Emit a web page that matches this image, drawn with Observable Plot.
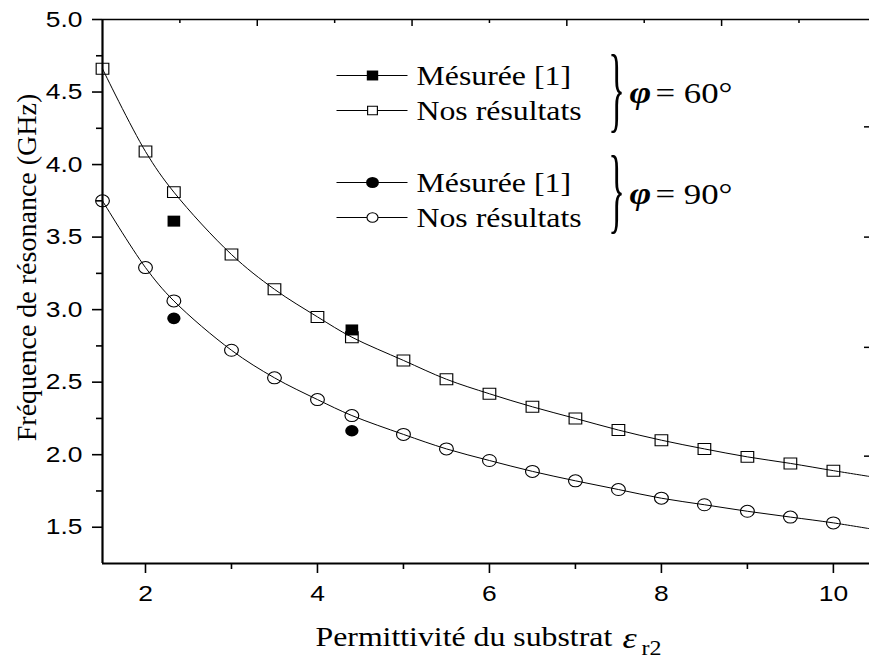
<!DOCTYPE html>
<html><head><meta charset="utf-8">
<script src="https://cdn.jsdelivr.net/npm/d3@7"></script>
<script src="https://cdn.jsdelivr.net/npm/@observablehq/plot@0.6"></script>
<style>body{margin:0;background:#fff} #chart svg{display:block}</style>
</head><body><div id="chart"></div>
<script>
// ---- data ----
const eps = [1.5, 2, 2.33, 3, 3.5, 4, 4.4, 5, 5.5, 6, 6.5, 7, 7.5, 8, 8.5, 9, 9.5, 10];
const nos60 = [4.66, 4.09, 3.81, 3.38, 3.14, 2.95, 2.81, 2.65, 2.52, 2.42, 2.33, 2.25, 2.17, 2.10, 2.04, 1.985, 1.94, 1.89];
const nos90 = [3.75, 3.29, 3.06, 2.72, 2.53, 2.38, 2.27, 2.14, 2.04, 1.96, 1.885, 1.82, 1.76, 1.70, 1.655, 1.61, 1.57, 1.53];
const measEps = [2.33, 4.4];
const mes60 = [3.61, 2.86];
const mes90 = [2.94, 2.165];
const tailEps = 10.42;   // curve continues to the plot edge
const tail60 = 1.85;
const tail90 = 1.49;
const xMajor = [2, 4, 6, 8, 10];
const xMinor = [3, 5, 7, 9];
const yMajor = [1.5, 2.0, 2.5, 3.0, 3.5, 4.0, 4.5, 5.0];
const yMinor = [1.75, 2.25, 2.75, 3.25, 3.75, 4.25, 4.75];
const topMajor = [3.3, 5.1, 6.9, 8.7];
const topMinor = [2.4, 4.2, 6.0, 7.8, 9.6];
const rightTicks = [4.26, 3.5, 2.74, 1.99];
const legendLabels = ["Mésurée [1]", "Nos résultats", "Mésurée [1]", "Nos résultats"];
const phiLabels = ["= 60°", "= 90°"];
const yLabel = "Fréquence de résonance (GHz)";
const xLabel = "Permittivité du substrat";

// ---- layout ----
const W = 869, H = 659, mL = 102, mR = 0, mT = 19, mB = 96;
const xDomain = [1.5, 10.42], yDomain = [1.25, 5.0];
const xs = Plot.scale({x: {domain: xDomain, range: [mL, W - mR]}});
const ys = Plot.scale({y: {domain: yDomain, range: [H - mB, mT]}});
const px = (v) => xs.invert(v), py = (v) => ys.invert(v);
const SERIF = "'Liberation Serif', 'Times New Roman', serif";
const SANS = "'Liberation Sans', Arial, sans-serif";

const ring = {draw(ctx, size) { const r = Math.sqrt(size / Math.PI); ctx.moveTo(r, 0); ctx.arc(0, 0, r, 0, 2 * Math.PI); ctx.closePath(); }};

const res = eps.map((e, i) => ({e, a: nos60[i], b: nos90[i]}));
const curveA = [...res.map(d => ({e: d.e, v: d.a})), {e: tailEps, v: tail60}];
const curveB = [...res.map(d => ({e: d.e, v: d.b})), {e: tailEps, v: tail90}];
const meas = measEps.map((e, i) => ({e, a: mes60[i], b: mes90[i]}));

const rowY = [75, 110, 182, 217];
const legend = legendLabels.map((label, i) => ({label, y: py(rowY[i]), sym: i < 2 ? "square" : ring}));
const phiRows = phiLabels.map((t, i) => ({t, y: py([93, 194][i]), by: py([95, 196][i] - 6)}));

const marks = [
  Plot.ruleY([5.0], {strokeWidth: 1.5}),
  Plot.tickX(topMajor, {x: d => d, insetBottom: (H - mT - mB) - 7, strokeWidth: 1.5}),
  Plot.tickX(topMinor, {x: d => d, insetBottom: (H - mT - mB) - 4, strokeWidth: 1.5}),
  Plot.tickY(rightTicks, {y: d => d, insetLeft: (W - mL - mR) - 5, strokeWidth: 1.5}),
  Plot.axisX(xMajor, {anchor: "bottom", tickSize: 10, tickPadding: 12, fontSize: 22, fontFamily: SANS, strokeWidth: 1.6, label: null, tickFormat: d => String(d), fill: "black"}),
  Plot.axisX(xMinor, {anchor: "bottom", tickSize: 6, strokeWidth: 1.6, label: null, tickFormat: () => ""}),
  Plot.axisY(yMajor, {anchor: "left", tickSize: 10, tickPadding: 10, fontSize: 22, fontFamily: SANS, strokeWidth: 1.6, label: null, tickFormat: d => d.toFixed(1), fill: "black"}),
  Plot.axisY(yMinor, {anchor: "left", tickSize: 6, strokeWidth: 1.6, label: null, tickFormat: () => ""}),
  Plot.ruleX([xDomain[0]], {strokeWidth: 2.2}),
  Plot.ruleY([yDomain[0]], {strokeWidth: 2.2}),
  // curves
  Plot.line(curveA, {x: "e", y: "v", curve: "catmull-rom", stroke: "black", strokeWidth: 1}),
  Plot.line(curveB, {x: "e", y: "v", curve: "catmull-rom", stroke: "black", strokeWidth: 1}),
  Plot.dot(res, {x: "e", y: "a", symbol: "square", r: 6.2, stroke: "black", strokeWidth: 1, fill: "none"}),
  Plot.dot(res, {x: "e", y: "b", symbol: ring, r: 6, stroke: "black", strokeWidth: 1, fill: "none"}),
  Plot.dot(meas, {x: "e", y: "a", symbol: "square", r: 6.2, fill: "black", stroke: "none"}),
  Plot.dot(meas, {x: "e", y: "b", symbol: ring, r: 5.8, fill: "black", stroke: "none"}),
  // legend
  Plot.link(legend, {x1: px(336), x2: px(407), y1: "y", y2: "y", stroke: "black", strokeWidth: 1}),
  Plot.dot(legend.filter((d, i) => i % 2 === 0), {x: px(372), y: "y", symbol: "sym", r: 5.6, fill: "black", stroke: "none"}),
  Plot.dot(legend.filter((d, i) => i % 2 === 1), {x: px(372), y: "y", symbol: "sym", r: 4.8, fill: "white", stroke: "black", strokeWidth: 1}),
  Plot.text(legend, {x: px(416), y: "y", text: "label", textAnchor: "start", lineAnchor: "middle", fontFamily: SERIF, fontSize: 26.5, fill: "black", dy: 1}),
  Plot.text(phiRows, {x: px(616), y: "by", text: () => "}", textAnchor: "middle", lineAnchor: "middle", fontFamily: SERIF, fontSize: 96, fill: "black"}),
  Plot.text(phiRows, {x: px(629), y: "y", text: () => "φ", textAnchor: "start", lineAnchor: "middle", fontFamily: SERIF, fontStyle: "italic", fontWeight: "bold", fontSize: 31, fill: "black"}),
  Plot.text(phiRows, {x: px(655), y: "y", text: "t", textAnchor: "start", lineAnchor: "middle", fontFamily: SERIF, fontSize: 29, fill: "black"}),
  // axis titles
  Plot.text([yLabel], {x: px(27), y: py(267), text: d => d, rotate: -90, textAnchor: "middle", lineAnchor: "middle", fontFamily: SERIF, fontSize: 28, fill: "black"}),
  Plot.text([xLabel], {x: px(315), y: py(645), text: d => d, textAnchor: "start", lineAnchor: "bottom", fontFamily: SERIF, fontSize: 26.5, fill: "black"}),
  Plot.text(["ε"], {x: px(622), y: py(647), text: d => d, textAnchor: "start", lineAnchor: "bottom", fontFamily: SERIF, fontStyle: "italic", fontSize: 30, fill: "black"}),
  Plot.text(["r2"], {x: px(641), y: py(654), text: d => d, textAnchor: "start", lineAnchor: "bottom", fontFamily: SERIF, fontSize: 20, fill: "black"})
];

const svg = Plot.plot({
  width: W, height: H,
  marginLeft: mL, marginRight: mR, marginTop: mT, marginBottom: mB,
  style: {background: "white", color: "black", overflow: "visible"},
  x: {domain: xDomain, axis: null},
  y: {domain: yDomain, axis: null},
  marks
});

// horizontal stretch seen in the reference picture
const SX = 1.2;
svg.querySelectorAll("text").forEach(t => {
  const tr = t.getAttribute("transform") || "";
  if (tr.includes("rotate")) return;
  const s = t.textContent === "}" ? 0.36 : SX;
  t.setAttribute("transform", `${tr} scale(${s},1)`);
});
svg.querySelectorAll('g[aria-label="dot"] path').forEach(p => {
  const tr = p.getAttribute("transform") || "";
  p.setAttribute("transform", `${tr} scale(1.15,1)`);
});
document.getElementById("chart").appendChild(svg);
</script>
</body></html>
